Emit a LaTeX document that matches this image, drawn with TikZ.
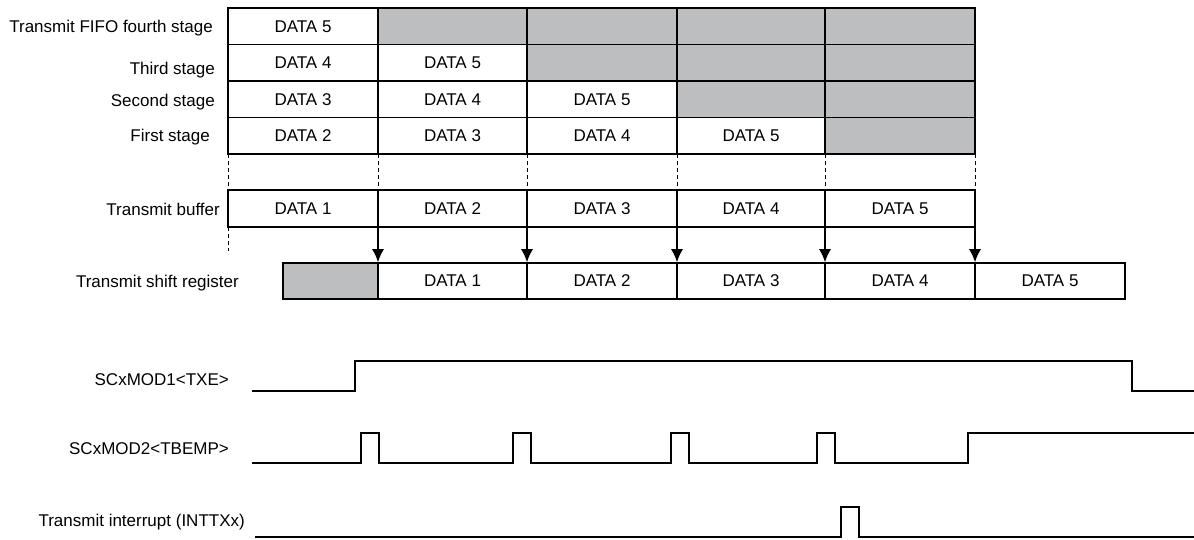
\documentclass[tikz,border=0pt]{standalone}
\usepackage{fontspec}
\setmainfont{Liberation Sans}
\usetikzlibrary{arrows.meta}
\definecolor{cellgrey}{RGB}{188,190,192}
\begin{document}
\begin{tikzpicture}[x=1pt,y=-1pt,
  every node/.style={font=\fontsize{17}{20}\selectfont},
  cell/.style={draw, line width=1.5pt, inner sep=0pt, outer sep=0pt, anchor=north west, minimum height=36.5pt},
  gcell/.style={cell, fill=cellgrey},
  bcell/.style={cell, minimum height=37pt},
  scell/.style={cell, minimum height=36pt},
  lbl/.style={anchor=base east, inner sep=0pt},
  guide/.style={dashed, dash pattern=on 4pt off 3pt, line width=1pt},
  xfer/.style={line width=1.3pt, -{Latex[length=13pt,width=12pt]}, shorten >=0.8pt},
  sig/.style={line width=2.2pt, line join=miter}]
\useasboundingbox (0,0) rectangle (1194,539);

% FIFO fourth stage
\node[cell, minimum width=150pt] (r1a) at (228,8) {DATA 5};
\node[gcell, minimum width=149pt] (r1b) at (378,8) {};
\node[gcell, minimum width=150pt] (r1c) at (527,8) {};
\node[gcell, minimum width=148pt] (r1d) at (677,8) {};
\node[gcell, minimum width=150pt] (r1e) at (825,8) {};
% third stage
\node[cell, minimum width=150pt] (r2a) at (228,44.5) {DATA 4};
\node[cell, minimum width=149pt] (r2b) at (378,44.5) {DATA 5};
\node[gcell, minimum width=150pt] (r2c) at (527,44.5) {};
\node[gcell, minimum width=148pt] (r2d) at (677,44.5) {};
\node[gcell, minimum width=150pt] (r2e) at (825,44.5) {};
% second stage
\node[cell, minimum width=150pt] (r3a) at (228,81) {DATA 3};
\node[cell, minimum width=149pt] (r3b) at (378,81) {DATA 4};
\node[cell, minimum width=150pt] (r3c) at (527,81) {DATA 5};
\node[gcell, minimum width=148pt] (r3d) at (677,81) {};
\node[gcell, minimum width=150pt] (r3e) at (825,81) {};
% first stage
\node[cell, minimum width=150pt] (r4a) at (228,117.5) {DATA 2};
\node[cell, minimum width=149pt] (r4b) at (378,117.5) {DATA 3};
\node[cell, minimum width=150pt] (r4c) at (527,117.5) {DATA 4};
\node[cell, minimum width=148pt] (r4d) at (677,117.5) {DATA 5};
\node[gcell, minimum width=150pt] (r4e) at (825,117.5) {};

% transmit buffer
\node[bcell, minimum width=150pt] (b1) at (228,190) {DATA 1};
\node[bcell, minimum width=149pt] (b2) at (378,190) {DATA 2};
\node[bcell, minimum width=150pt] (b3) at (527,190) {DATA 3};
\node[bcell, minimum width=148pt] (b4) at (677,190) {DATA 4};
\node[bcell, minimum width=150pt] (b5) at (825,190) {DATA 5};

% transmit shift register
\node[scell, fill=cellgrey, minimum width=95pt] (s1) at (283,263) {};
\node[scell, minimum width=149pt] (s2) at (378,263) {DATA 1};
\node[scell, minimum width=150pt] (s3) at (527,263) {DATA 2};
\node[scell, minimum width=148pt] (s4) at (677,263) {DATA 3};
\node[scell, minimum width=150pt] (s5) at (825,263) {DATA 4};
\node[scell, minimum width=150pt] (s6) at (975,263) {DATA 5};

% dashed guides
\draw[guide] (r4a.south west) -- (b1.north west);
\draw[guide] (r4b.south west) -- (b2.north west);
\draw[guide] (r4c.south west) -- (b3.north west);
\draw[guide] (r4d.south west) -- (b4.north west);
\draw[guide] (r4e.south west) -- (b5.north west);
\draw[guide] (r4e.south east) -- (b5.north east);
\coordinate (gend) at (228,251);
\draw[guide] (b1.south west) -- (gend);

% transfers
\draw[xfer] (b1.south east) -- (s2.north west);
\draw[xfer] (b2.south east) -- (s3.north west);
\draw[xfer] (b3.south east) -- (s4.north west);
\draw[xfer] (b4.south east) -- (s5.north west);
\draw[xfer] (b5.south east) -- (s6.north west);

% labels
\node[lbl] (l1) at (213,32) {Transmit FIFO fourth stage};
\node[lbl] (l2) at (215,74) {Third stage};
\node[lbl] (l3) at (215,106) {Second stage};
\node[lbl] (l4) at (210,141) {First stage};
\node[lbl] (l5) at (220,215) {Transmit buffer};
\node[lbl] (l6) at (239,287) {Transmit shift register};
\node[lbl] (l7) at (229,385) {SCxMOD1<TXE>};
\node[lbl] (l8) at (229,454) {SCxMOD2<TBEMP>};
\node[lbl] (l9) at (245,526) {Transmit interrupt (INTTXx)};

% waveforms
\draw[sig] (252,391) -- (355,391) -- (355,361) -- (1132,361) -- (1132,391) -- (1194,391);
\draw[sig] (252,463) -- (361,463) -- (361,433) -- (379,433) -- (379,463)
  -- (513,463) -- (513,433) -- (531,433) -- (531,463)
  -- (671,463) -- (671,433) -- (689,433) -- (689,463)
  -- (817,463) -- (817,433) -- (835,433) -- (835,463)
  -- (968,463) -- (968,433) -- (1194,433);
\draw[sig] (255,537) -- (841,537) -- (841,507) -- (859,507) -- (859,537) -- (1194,537);
\end{tikzpicture}
\end{document}
